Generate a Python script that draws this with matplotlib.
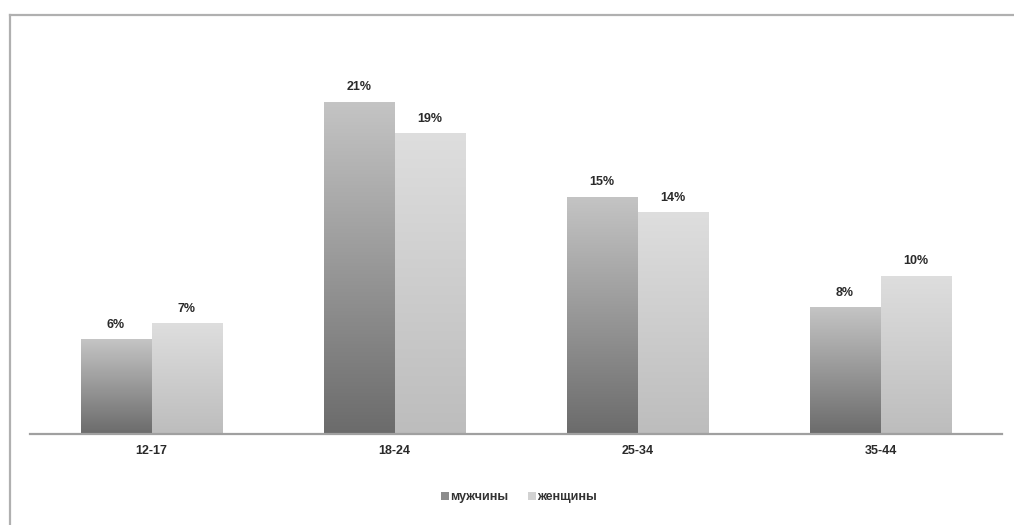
import numpy as np
import matplotlib.pyplot as plt
from matplotlib.lines import Line2D
from matplotlib.patches import Patch

plt.rcParams['font.family'] = ['Liberation Sans', 'DejaVu Sans']

groups = ["12-17", "18-24", "25-34", "35-44"]
men = [6, 21, 15, 8]
women = [7, 19, 14, 10]
series_names = ["мужчины", "женщины"]

fig = plt.figure(figsize=(10.14, 5.25), dpi=100)
ax = fig.add_axes([30 / 1014, 1 - 434 / 525, 972 / 1014, 380 / 525])

x = np.arange(len(groups))
w = 0.292


def gradient_bars(bars, c_bottom, c_top):
    # vertical grey gradient clipped to every bar
    grad = np.linspace(0, 1, 256).reshape(-1, 1)
    c0 = np.array(c_bottom)
    c1 = np.array(c_top)
    img = c0 + (c1 - c0) * grad[:, :, None]
    for b in bars:
        x0, y0 = b.get_x(), b.get_y()
        im = ax.imshow(img, extent=[x0, x0 + b.get_width(), y0, y0 + b.get_height()],
                       origin="lower", aspect="auto", zorder=2)
        im.set_clip_path(b)


bars_m = ax.bar(x - w / 2, men, w, color="none", edgecolor="none", zorder=3)
bars_w = ax.bar(x + w / 2, women, w, color="none", edgecolor="none", zorder=3)
gradient_bars(bars_m, (0.42, 0.42, 0.42), (0.77, 0.77, 0.77))
gradient_bars(bars_w, (0.74, 0.74, 0.74), (0.87, 0.87, 0.87))

for bars, vals in ((bars_m, men), (bars_w, women)):
    for b, v in zip(bars, vals):
        ax.annotate(f"{v}%", (b.get_x() + b.get_width() / 2, v),
                    xytext=(0, 6), textcoords="offset points",
                    ha="center", va="bottom", fontsize=9, fontweight="bold",
                    color="#2a2a2a")

ax.set_xlim(-0.5, len(groups) - 0.5)
ax.set_ylim(0, 24)
ax.set_xticks(x)
ax.set_xticklabels(groups, fontsize=9, fontweight="bold", color="#2a2a2a")
ax.tick_params(axis="x", length=0, pad=8)
ax.set_yticks([])
for side in ("top", "right", "left"):
    ax.spines[side].set_visible(False)
ax.spines["bottom"].set_color("#a0a0a0")
ax.spines["bottom"].set_linewidth(1.6)

handles = [Patch(facecolor="#8c8c8c"), Patch(facecolor="#d2d2d2")]
fig.legend(handles, series_names, loc="center", bbox_to_anchor=(519 / 1014, 1 - 497 / 525),
           ncol=2, frameon=False, handlelength=0.6, handleheight=0.6,
           handletextpad=0.1, columnspacing=1.6, labelcolor="#333333",
           prop={"size": 9, "weight": "bold"})

# outer frame of the chart area
fig.add_artist(Line2D([10 / 1014, 10 / 1014], [0, 1 - 15 / 525], color="#b0b0b0", lw=1.6))
fig.add_artist(Line2D([10 / 1014, 1], [1 - 15 / 525, 1 - 15 / 525], color="#b0b0b0", lw=1.6))

fig.savefig("out.png", dpi=100)
